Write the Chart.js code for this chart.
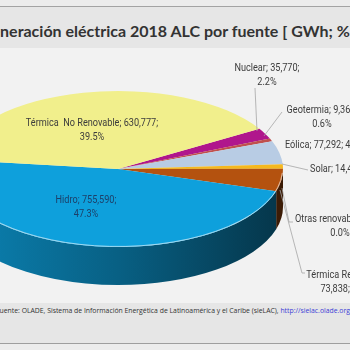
<!DOCTYPE html>
<html>
<head>
<meta charset="utf-8">
<script src="https://cdn.jsdelivr.net/npm/chart.js@4.4.0/dist/chart.umd.min.js"></script>
<style>
body { margin:0; width:350px; height:350px; overflow:hidden; background:#ececec; position:relative; }
#topline { position:absolute; left:0; top:6px; width:350px; height:1px; background:#a3a3a3; }
#band { position:absolute; left:0; top:7px; width:350px; height:41px; background:#e6e6e6; }
#title { position:absolute; left:-20px; top:21px; white-space:nowrap; font:bold 16px Lato; color:#333; }
#plot { position:absolute; left:0; top:48px; width:350px; height:255px; background:#f2f2f2; }
#foot { position:absolute; left:0; top:303px; width:350px; height:40px; background:#e6e6e6; }
#footline { position:absolute; left:0; top:343px; width:350px; height:1px; background:#9e9e9e; }
#source { position:absolute; left:-4px; top:306px; white-space:nowrap; font:6.85px 'Open Sans'; color:#333; }
#source a { color:#3d3dd6; text-decoration:none; }
#wrap { position:absolute; left:-47px; top:0; width:400px; height:350px; }
</style>
</head>
<body>
<div id="topline"></div>
<div id="band"></div>
<div id="title">Generación eléctrica 2018 ALC por fuente [ GWh; % ]</div>
<div id="plot"></div>
<div id="foot"></div>
<div id="footline"></div>
<div id="source">Fuente: OLADE, Sistema de Información Energética de Latinoamérica y el Caribe (sieLAC), <a>http://sielac.olade.org</a></div>
<div id="wrap"><canvas id="c"></canvas></div>
<script>
// datos: generación 2018 por fuente
var labels = ['Nuclear', 'Geotermia', 'Eólica', 'Solar', 'Otras renovables', 'Térmica Renovable', 'Hidro', 'Térmica  No Renovable'];
var gwh = [35770, 9365, 77292, 14400, 300, 73838, 755590, 630777];
var pct = ['2.2%', '0.6%', '4.8%', '0.9%', '0.0%', '4.6%', '47.3%', '39.5%'];
var colors = ['#b0168c', '#c0504d', '#b8cce4', '#f5b81e', '#7f7f7f', '#b4520f', '#0ea0dc', '#f1ef8c'];

// 0 = una linea, 1 = % abajo, 2 = valor y % abajo
var split = [1, 1, 0, 0, 1, 2, 1, 1];
var labelPos = [
	{x: 267, y: 68, align: 'center'},
	{x: 322, y: 110, align: 'center'},
	{x: 285, y: 145, align: 'left'},
	{x: 310, y: 169, align: 'left'},
	{x: 340, y: 219, align: 'center'},
	{x: 346, y: 275, align: 'center'},
	{x: 86, y: 200, align: 'center'},
	{x: 92, y: 123, align: 'center'}
];
var leaders = [
	[[255, 88], [257, 131]],
	[[282, 112], [264, 136]],
	[[282, 164], [308, 170]],
	[[282, 188], [289, 222], [293, 222]],
	[[280, 190], [302, 273], [305, 273]]
];

var TILT = 78 / 165;
var DEPTH = 38;
var SHIFT = 47;

function shade(hex, f) {
	var n = parseInt(hex.slice(1), 16);
	var r = Math.round(((n >> 16) & 255) * f);
	var g = Math.round(((n >> 8) & 255) * f);
	var b = Math.round((n & 255) * f);
	return 'rgb(' + r + ',' + g + ',' + b + ')';
}

function labelLines(i) {
	var v = gwh[i].toLocaleString('en-US');
	if (split[i] == 0) return [labels[i] + '; ' + v + '; ' + pct[i]];
	if (split[i] == 1) return [labels[i] + '; ' + v + ';', pct[i]];
	return [labels[i] + ';', v + '; ' + pct[i]];
}

var pie3d = {
	id: 'pie3d',
	beforeDatasetsDraw(chart) {
		var ctx = chart.ctx;
		var arcs = chart.getDatasetMeta(0).data;
		var cx = arcs[0].x, cy = arcs[0].y, r = arcs[0].outerRadius, ry = r * TILT;
		arcs.forEach(function(arc, i) {
			for (var k = -1; k <= 2; k++) {
				var lo = Math.max(arc.startAngle, 2 * Math.PI * k);
				var hi = Math.min(arc.endAngle, 2 * Math.PI * k + Math.PI);
				if (hi <= lo) continue;
				var g = ctx.createLinearGradient(cx - r, 0, cx + r, 0);
				g.addColorStop(0, shade(colors[i], 0.82));
				g.addColorStop(0.5, shade(colors[i], 0.6));
				g.addColorStop(1, shade(colors[i], 0.33));
				ctx.beginPath();
				ctx.ellipse(cx, cy, r, ry, 0, lo, hi);
				ctx.lineTo(cx + r * Math.cos(hi), cy + ry * Math.sin(hi) + DEPTH);
				ctx.ellipse(cx, cy + DEPTH, r, ry, 0, hi, lo, true);
				ctx.closePath();
				ctx.fillStyle = g;
				ctx.fill();
			}
		});
		ctx.save();
		ctx.translate(0, cy);
		ctx.scale(1, TILT);
		ctx.translate(0, -cy);
	},
	afterDatasetsDraw(chart) {
		var ctx = chart.ctx;
		ctx.restore();
		var arcs = chart.getDatasetMeta(0).data;
		var cx = arcs[0].x, cy = arcs[0].y, r = arcs[0].outerRadius, ry = r * TILT;

		ctx.save();
		ctx.beginPath();
		ctx.ellipse(cx, cy, r - 0.5, ry - 0.5, 0, 0.05, Math.PI - 0.05);
		ctx.strokeStyle = 'rgba(255,255,255,0.6)';
		ctx.lineWidth = 1;
		ctx.stroke();

		ctx.translate(SHIFT, 0);
		ctx.strokeStyle = '#a6a6a6';
		ctx.lineWidth = 0.8;
		leaders.forEach(function(p) {
			ctx.beginPath();
			ctx.moveTo(p[0][0], p[0][1]);
			for (var j = 1; j < p.length; j++) ctx.lineTo(p[j][0], p[j][1]);
			ctx.stroke();
		});

		ctx.font = '10.5px Roboto';
		ctx.textBaseline = 'middle';
		for (var i = 0; i < labels.length; i++) {
			var lines = labelLines(i);
			var pos = labelPos[i];
			ctx.fillStyle = (i == 6) ? '#1d3f68' : '#3c3c3c';
			ctx.textAlign = pos.align;
			for (var j = 0; j < lines.length; j++) {
				ctx.save();
				ctx.translate(pos.x, pos.y + j * 14);
				ctx.scale(0.87, 1);
				ctx.fillText(lines[j], 0, 0);
				ctx.restore();
			}
		}
		ctx.restore();
	}
};

new Chart(document.getElementById('c'), {
	type: 'pie',
	data: {
		labels: labels,
		datasets: [{
			data: gwh,
			backgroundColor: colors,
			borderWidth: 0,
			hoverOffset: 0
		}]
	},
	options: {
		responsive: true,
		maintainAspectRatio: false,
		animation: false,
		events: [],
		rotation: 59,
		layout: { padding: { left: 0, right: 70, top: 4, bottom: 16 } },
		plugins: {
			legend: { display: false },
			tooltip: { enabled: false }
		}
	},
	plugins: [pie3d]
});
</script>
</body>
</html>
